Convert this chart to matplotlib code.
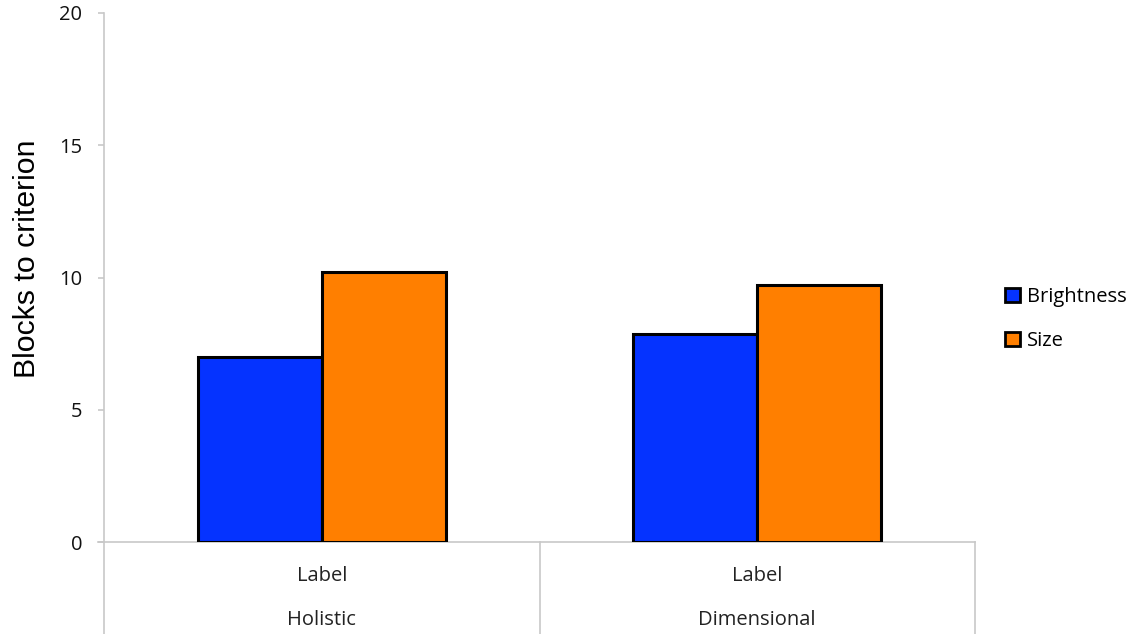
import matplotlib
matplotlib.use("Agg")
import matplotlib.pyplot as plt
import matplotlib.transforms as mtransforms
import numpy as np

categories = ["Holistic", "Dimensional"]
sublabels = ["Label", "Label"]
series_names = ["Brightness", "Size"]
brightness = [7.0, 7.85]
size = [10.2, 9.7]
yticks = [0, 5, 10, 15, 20]

colors = ["#0533FF", "#FF7F00"]
grey = "#C8C8C8"
font = "Open Sans"
fs = 14.5

fig = plt.figure(figsize=(11.39, 6.34), dpi=100)
ax = fig.add_axes([104/1139, (634-542)/634, (975-104)/1139, (542-13)/634])

x = np.arange(len(categories)) + 0.5
w = 0.285
for i, (vals, c, name) in enumerate(zip([brightness, size], colors, series_names)):
    ax.bar(x + (i - 0.5) * w, vals, width=w, color=c, edgecolor="black",
           linewidth=2.2, label=name, zorder=3)

ax.set_xlim(0, len(categories))
ax.set_ylim(0, 20)
ax.set_yticks(yticks)
ax.set_yticklabels([str(t) for t in yticks], fontsize=fs, family=font, color="#111111")
ax.tick_params(axis="y", direction="out", length=4.5, width=1.2, color=grey, pad=11)
ax.set_xticks([])
for s in ["top", "right"]:
    ax.spines[s].set_visible(False)
ax.spines["left"].set_color(grey)
ax.spines["left"].set_linewidth(1.2)
ax.spines["bottom"].set_visible(False)
ax.axhline(0, color=grey, lw=1.2, zorder=2, clip_on=False)
ax.plot([-6/435.5, 0], [0, 0], color=grey, lw=1.2, clip_on=False)

trans = mtransforms.blended_transform_factory(ax.transData, fig.transFigure)
y0 = (634-542)/634
for xb in range(len(categories) + 1):
    ax.plot([xb, xb], [y0, 0], color=grey, lw=1.2, transform=trans, clip_on=False)

for xi, cat, sub in zip(x, categories, sublabels):
    ax.text(xi, (634-576)/634, sub, transform=trans, ha="center", va="center",
            fontsize=fs, family=font, color="#222222")
    ax.text(xi, (634-620)/634, cat, transform=trans, ha="center", va="center",
            fontsize=fs, family=font, color="#222222")

ax.set_ylabel("Blocks to criterion", fontsize=21.8, family="Liberation Sans")
ax.yaxis.set_label_coords(-0.072, 0.536)

leg = fig.legend(loc="center left", bbox_to_anchor=(987/1139, (634-319)/634),
                 frameon=False, prop={"family": font, "size": fs},
                 handlelength=0.75, handleheight=0.75, handletextpad=0.35,
                 labelspacing=1.2)
for h in leg.legend_handles:
    h.set_linewidth(2.0)

fig.savefig("out.png", dpi=100)
